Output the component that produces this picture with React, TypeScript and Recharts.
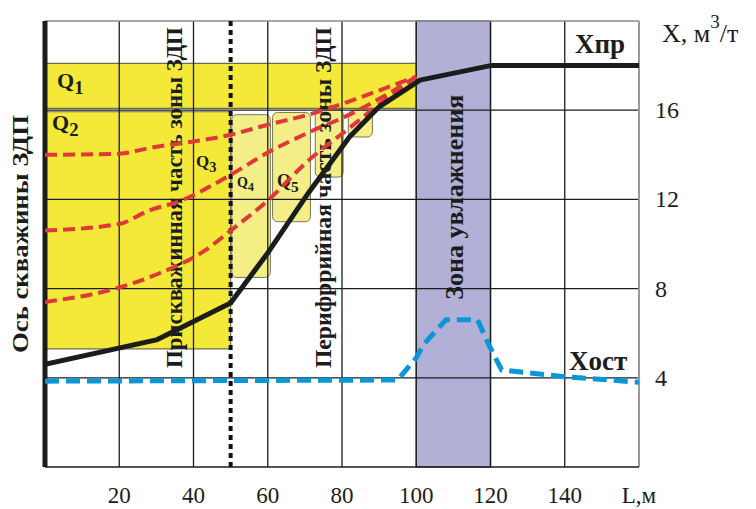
import {
  ComposedChart,
  Line,
  ReferenceArea,
  ReferenceLine,
  Rectangle,
  XAxis,
  YAxis,
} from "recharts";

// X, m3/t along L, m
const X_L = [0, 30, 50, 60, 71, 82, 90, 101, 120, 160];
const X_VAL = [4.6, 5.7, 7.35, 9.6, 12.3, 14.8, 16.15, 17.35, 18.0, 18.0];

const XOST_L = [0, 95, 100, 102, 108, 116.5, 119.5, 123, 140, 160];
const XOST_VAL = [3.85, 3.9, 4.9, 5.5, 6.6, 6.6, 5.5, 4.35, 4.05, 3.8];

const Q_A_L = [0, 20, 28, 50, 60, 71, 82, 91, 100];
const Q_A_VAL = [14.0, 14.05, 14.3, 14.9, 15.35, 15.8, 16.4, 16.95, 17.5];
const Q_B_L = [0, 20, 28, 36, 50, 60, 71, 82, 91, 100];
const Q_B_VAL = [10.6, 10.9, 11.5, 11.9, 13.1, 14.1, 15.0, 15.8, 16.6, 17.5];
const Q_C_L = [0, 20, 31, 43, 50, 60, 71, 82, 91, 100];
const Q_C_VAL = [7.4, 8.05, 8.7, 9.7, 10.6, 11.95, 13.75, 15.2, 16.4, 17.5];

// yellow zones: [L from, L to, X from, X to]
const Q_BANDS = [
  [0, 100, 16.08, 18.1],
  [0, 50, 5.3, 15.93],
];
const Q_BOXES = [
  [50.3, 60.7, 8.5, 15.8],
  [61.3, 71.5, 11.0, 15.9],
  [72.8, 80.3, 13.0, 16.05],
  [81.7, 88.2, 14.8, 16.0],
];
const WET_ZONE = [100, 120];

const X_TICKS = [20, 40, 60, 80, 100, 120, 140, 160];
const Y_TICKS = [4, 8, 12, 16];
const GRID_X = [20, 40, 60, 80, 100, 120, 140];
const GRID_Y = [4, 8, 12, 16];

const zip = (xs: number[], ys: number[]) => xs.map((l, i) => ({ l, v: ys[i] }));

const SERIF = "'Liberation Serif', 'Times New Roman', serif";
const INK = "#1b1d1c";
const YELLOW = "#f4e938";
const PALE = "#f3ee86";
const RED = "#e0373a";
const BLUE = "#0a97d8";

function VText({
  cx,
  cy,
  size,
  len,
  children,
}: {
  cx: number;
  cy: number;
  size: number;
  len: number;
  children: string;
}) {
  return (
    <text
      x={cx}
      y={cy}
      transform={`rotate(-90 ${cx} ${cy})`}
      textAnchor="middle"
      dominantBaseline="central"
      fontFamily={SERIF}
      fontWeight="bold"
      fontSize={size}
      fill={INK}
      textLength={len}
      lengthAdjust="spacingAndGlyphs"
    >
      {children}
    </text>
  );
}

function QLabel({ x, y, sub, size }: { x: number; y: number; sub: string; size: number }) {
  return (
    <text x={x} y={y} fontFamily={SERIF} fontWeight="bold" fontSize={size} fill={INK}>
      Q
      <tspan dy={size * 0.28} fontSize={size * 0.85}>
        {sub}
      </tspan>
    </text>
  );
}

function Labels(p: any) {
  // plot area -> data coordinates
  const px = (l: number) => p.x + (l / 160) * p.width;
  const py = (v: number) => p.y + p.height - (v / 20) * p.height;
  return (
    <g>
      <VText cx={px(35)} cy={py(12.08)} size={23} len={341}>
        Прискважинная часть зоны ЗДП
      </VText>
      <VText cx={px(74.9)} cy={py(12.08)} size={23} len={341}>
        Перифррийная часть зоны ЗДП
      </VText>
      <VText cx={px(110.4)} cy={py(12.1)} size={25} len={205}>
        Зона увлажнения
      </VText>
      <QLabel x={57} y={88} sub="1" size={22} />
      <QLabel x={52} y={130} sub="2" size={22} />
      <QLabel x={196} y={167} sub="3" size={17} />
      <QLabel x={237} y={187} sub="4" size={14} />
      <QLabel x={277} y={187} sub="5" size={18} />
      <text x={575} y={53} fontFamily={SERIF} fontWeight="bold" fontSize={27} fill={INK}>
        Xпр
      </text>
      <text x={569} y={370} fontFamily={SERIF} fontWeight="bold" fontSize={27} fill={INK}>
        Xост
      </text>
    </g>
  );
}

function BottomTick({ x, payload }: any) {
  return (
    <text x={x} y={503} textAnchor="middle" fontFamily={SERIF} fontSize={23} fill={INK}>
      {payload.value === 160 ? "L,м" : payload.value}
    </text>
  );
}

function RightTick({ y, payload }: any) {
  return (
    <text x={655} y={y + 8} textAnchor="start" fontFamily={SERIF} fontSize={24} fill={INK}>
      {payload.value}
    </text>
  );
}

export default function App() {
  return (
    <div style={{ position: "absolute", left: 0, top: 0, width: 756, height: 509, background: "#fff" }}>
      <ComposedChart
        width={756}
        height={509}
        margin={{ top: 21, left: 45, right: 57, bottom: 12 }}
      >
        <XAxis
          type="number"
          dataKey="l"
          domain={[0, 160]}
          ticks={X_TICKS}
          allowDataOverflow
          height={30}
          tickLine={false}
          axisLine={{ stroke: INK, strokeWidth: 1.5 }}
          tick={<BottomTick />}
          interval={0}
        />
        <YAxis
          yAxisId="x"
          orientation="right"
          type="number"
          domain={[0, 20]}
          ticks={Y_TICKS}
          allowDataOverflow
          width={60}
          tickLine={false}
          axisLine={false}
          tick={<RightTick />}
          interval={0}
        />

        {Q_BANDS.map(([x1, x2, y1, y2], i) => (
          <ReferenceArea
            key={`band-${i}`}
            yAxisId="x"
            x1={x1}
            x2={x2}
            y1={y1}
            y2={y2}
            fill={YELLOW}
            fillOpacity={1}
            stroke="#6b6b50"
            strokeWidth={1.2}
          />
        ))}
        {Q_BOXES.map(([x1, x2, y1, y2], i) => (
          <ReferenceArea
            key={`box-${i}`}
            yAxisId="x"
            x1={x1}
            x2={x2}
            y1={y1}
            y2={y2}
            fill={PALE}
            fillOpacity={1}
            stroke="#77775a"
            strokeWidth={1}
            shape={(s: any) => <Rectangle {...s} radius={5} />}
          />
        ))}

        {GRID_X.map((g) => (
          <ReferenceLine key={`gx-${g}`} yAxisId="x" x={g} stroke={INK} strokeWidth={1.3} />
        ))}
        {GRID_Y.map((g) => (
          <ReferenceLine key={`gy-${g}`} yAxisId="x" y={g} stroke={INK} strokeWidth={1.3} />
        ))}
        <ReferenceLine yAxisId="x" y={20} stroke="#8a8a8a" strokeWidth={1.3} />
        <ReferenceLine yAxisId="x" x={160} stroke="#9a9a9a" strokeWidth={2} />

        <ReferenceArea
          yAxisId="x"
          x1={WET_ZONE[0]}
          x2={WET_ZONE[1]}
          y1={0}
          y2={20}
          fill="#b2b0d6"
          fillOpacity={1}
          stroke="#6a6a6a"
          strokeWidth={1.5}
        />
        <ReferenceLine yAxisId="x" x={0} stroke={INK} strokeWidth={5} />
        <ReferenceLine
          yAxisId="x"
          x={50}
          stroke="#111"
          strokeWidth={4}
          strokeDasharray="5 4"
        />
        <ReferenceArea
          yAxisId="x"
          x1={0}
          x2={160}
          y1={0}
          y2={20}
          fillOpacity={0}
          shape={(s: any) => <Labels {...s} />}
        />

        <Line
          yAxisId="x"
          data={zip(Q_A_L, Q_A_VAL)}
          dataKey="v"
          type="monotone"
          stroke={RED}
          strokeWidth={4}
          strokeDasharray="12 6"
          dot={false}
          activeDot={false}
          isAnimationActive={false}
        />
        <Line
          yAxisId="x"
          data={zip(Q_B_L, Q_B_VAL)}
          dataKey="v"
          type="monotone"
          stroke={RED}
          strokeWidth={4}
          strokeDasharray="12 6"
          dot={false}
          activeDot={false}
          isAnimationActive={false}
        />
        <Line
          yAxisId="x"
          data={zip(Q_C_L, Q_C_VAL)}
          dataKey="v"
          type="monotone"
          stroke={RED}
          strokeWidth={4}
          strokeDasharray="12 6"
          dot={false}
          activeDot={false}
          isAnimationActive={false}
        />
        <Line
          yAxisId="x"
          data={zip(XOST_L, XOST_VAL)}
          dataKey="v"
          type="linear"
          stroke={BLUE}
          strokeWidth={5}
          strokeDasharray="14 7"
          dot={false}
          activeDot={false}
          isAnimationActive={false}
        />
        <Line
          yAxisId="x"
          data={zip(X_L, X_VAL)}
          dataKey="v"
          type="linear"
          stroke={INK}
          strokeWidth={5}
          strokeLinejoin="round"
          dot={false}
          activeDot={false}
          isAnimationActive={false}
        />
      </ComposedChart>
      <svg
        width={756}
        height={509}
        style={{ position: "absolute", left: 0, top: 0, pointerEvents: "none" }}
      >
        <VText cx={20} cy={234} size={23} len={238}>
          Ось  скважины ЗДП
        </VText>
        <text x={662} y={42} fontFamily={SERIF} fontSize={26} fill={INK}>
          X, м
          <tspan dy={-14} fontSize={19}>
            3
          </tspan>
          <tspan dy={14}>/т</tspan>
        </text>
      </svg>
    </div>
  );
}
